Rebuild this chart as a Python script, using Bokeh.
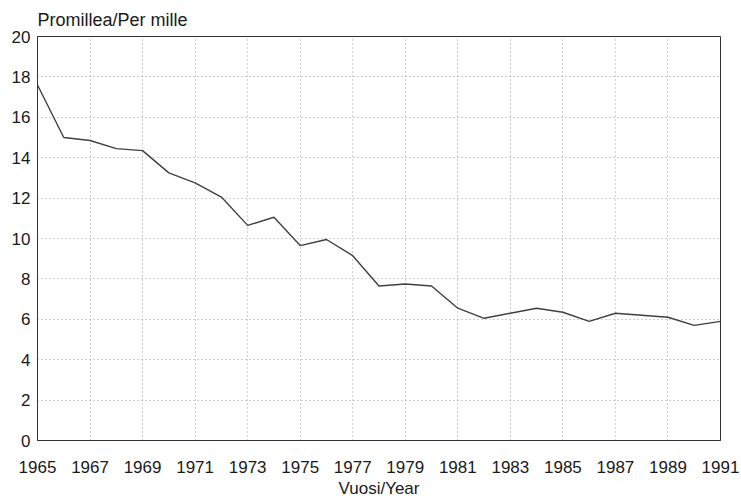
from bokeh.plotting import figure
from bokeh.models import FixedTicker, Range1d
from bokeh.embed import file_html
from bokeh.resources import INLINE

years = list(range(1965, 1992))
values = [17.6, 15.0, 14.85, 14.45, 14.35, 13.25, 12.75, 12.05, 10.65, 11.05,
          9.65, 9.95, 9.15, 7.65, 7.75, 7.65, 6.55, 6.05, 6.3, 6.55,
          6.35, 5.9, 6.3, 6.2, 6.1, 5.7, 5.9]
x_ticks = list(range(1965, 1992, 2))
y_ticks = list(range(0, 21, 2))

FONT = "Liberation Sans"

p = figure(width=741, height=500, output_backend="svg", toolbar_location=None,
           x_range=Range1d(1965, 1991), y_range=Range1d(0, 20),
           min_border_left=37, min_border_right=21, min_border_top=36, min_border_bottom=57,
           title="Promillea/Per mille")
p.line(years, values, line_color="#404040", line_width=1.4)

p.title.text_font = FONT
p.title.text_font_size = "18px"
p.title.text_font_style = "normal"
p.title.text_color = "#1a1a1a"
p.title.align = "left"
p.title.offset = 0
p.title.standoff = 13

p.xaxis.ticker = FixedTicker(ticks=x_ticks)
p.yaxis.ticker = FixedTicker(ticks=y_ticks)
for ax in (p.xaxis, p.yaxis):
    ax.major_tick_in = 0
    ax.major_tick_out = 0
    ax.minor_tick_in = 0
    ax.minor_tick_out = 0
    ax.axis_line_color = "#333333"
    ax.major_label_text_font = FONT
    ax.major_label_text_font_size = "17px"
    ax.major_label_text_color = "#1a1a1a"
    ax.axis_label_text_font = FONT
    ax.axis_label_text_font_size = "17px"
    ax.axis_label_text_font_style = "normal"
    ax.axis_label_text_color = "#1a1a1a"
p.xaxis.major_label_standoff = 20
p.yaxis.major_label_standoff = 7
p.xaxis.axis_label = "Vuosi/Year"
p.xaxis.axis_label_standoff = 3

p.xgrid.ticker = FixedTicker(ticks=x_ticks)
p.ygrid.ticker = FixedTicker(ticks=y_ticks)
for g in (p.xgrid, p.ygrid):
    g.grid_line_color = "#a0a0a0"
    g.grid_line_dash = "1 3"
    g.grid_line_width = 1

p.outline_line_color = "#333333"
p.outline_line_width = 1
p.background_fill_color = "white"
p.border_fill_color = "white"

open("out.html", "w").write(file_html(p, INLINE))
